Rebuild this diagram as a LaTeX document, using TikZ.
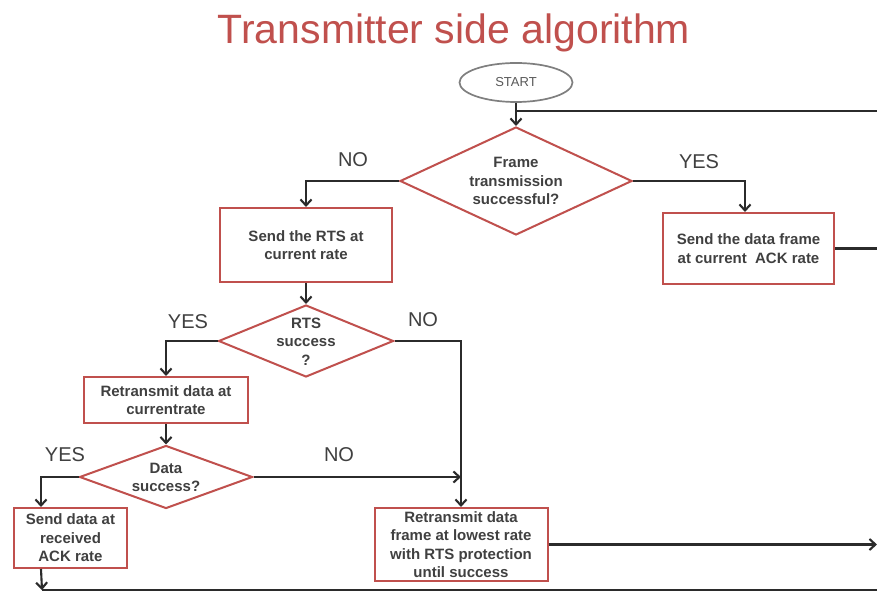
\documentclass[tikz,border=0pt]{standalone}
\usepackage{fontspec}
\setmainfont{Liberation Sans}
\usetikzlibrary{shapes.geometric,arrows.meta}
\definecolor{accent}{HTML}{C0504D}
\definecolor{ink}{HTML}{404040}
\definecolor{wirec}{HTML}{2B2B2B}
\definecolor{startc}{HTML}{7F7F7F}
\newcommand{\dtext}[1]{\makebox[0pt]{\smash{\raisebox{-5.4pt}{\begin{tabular}{@{}c@{}}#1\end{tabular}}}}}
\begin{document}
\begin{tikzpicture}[x=1pt,y=-1pt,
  box/.style={draw=accent,line width=2pt,fill=white,text=ink,font=\bfseries\fontsize{15}{18.5}\selectfont,align=center,inner sep=0pt},
  dec/.style={diamond,draw=accent,line width=2pt,text=ink,font=\bfseries\fontsize{15}{18.5}\selectfont,inner sep=0pt},
  wire/.style={draw=wirec,line width=2.1pt},
  arr/.style={wire,-{Straight Barb[length=6pt,width=11pt]}},
  lbl/.style={text=ink,font=\fontsize{20}{24}\selectfont,inner sep=0pt},
  ttl/.style={text=accent,font=\fontsize{41}{48}\selectfont,inner sep=0pt},
  startnode/.style={ellipse,draw=startc,line width=1.7pt,text=startc!70!black,font=\fontsize{13}{15}\selectfont,minimum width=113pt,minimum height=39pt,inner sep=0pt}
]
\useasboundingbox (0,0) rectangle (877,593);
\fill[white] (0,0) rectangle (877,593);

\node[ttl,anchor=base] (title) at (454,44) {Transmitter side algorithm};

\node[startnode] (start) at (516,82.5) {START};

\node[dec,minimum width=232pt,minimum height=108pt] (d1) at (516,181) {\dtext{Frame\\transmission\\successful?}};
\node[box,minimum width=172pt,minimum height=74pt] (rts) at (306,245) {Send the RTS at\\current rate};
\node[box,minimum width=171pt,minimum height=71pt] (frame) at (748.5,248.5) {Send the data frame\\at current~ ACK rate};
\node[dec,minimum width=175pt,minimum height=72pt] (d2) at (306,341) {\dtext{RTS\\success\\?}};
\node[box,minimum width=164pt,minimum height=46pt] (recur) at (166,400) {Retransmit data at\\currentrate};
\node[dec,minimum width=173pt,minimum height=63pt] (d3) at (166,477) {\dtext{Data\\success?}};
\node[box,minimum width=113pt,minimum height=60pt] (sendack) at (70.5,538) {Send data at\\received\\ACK rate};
\node[box,minimum width=173pt,minimum height=73pt] (low) at (461,544.5) {Retransmit data\\frame at lowest rate\\with RTS protection\\until success};

\node[lbl] (no1) at (353,160) {NO};
\node[lbl] (yes1) at (699,162) {YES};
\node[lbl] (yes2) at (188,322) {YES};
\node[lbl] (no2) at (423,320) {NO};
\node[lbl] (yes3) at (65,455) {YES};
\node[lbl] (no3) at (339,455) {NO};

\coordinate (eTop) at (877,111);
\coordinate (eFrame) at (877,249);
\coordinate (eLow) at (877,545);
\coordinate (eBot) at (877,590);
\coordinate (bl) at (42,590);

\draw[arr] (start.south) -- (d1.north);
\draw[wire] (eTop) -- (eTop -| d1.north);
\draw[arr] (d1.west) -| (rts.north);
\draw[arr] (d1.east) -| ([xshift=-3.5pt]frame.north);
\draw[wire] (frame.east) -- (frame.east -| eFrame);
\draw[arr] (rts.south) -- (d2.north);
\draw[arr] (d2.west) -| (recur.north);
\draw[arr] (d2.east) -| (low.north);
\draw[arr] (recur.south) -- (d3.north);
\draw[arr] (d3.west) -| ([xshift=28pt]sendack.north west);
\draw[arr] (d3.east) -- (d3.east -| low.north);
\draw[arr] (low.east) -- (low.east -| eLow);
\draw[arr] ([xshift=28pt]sendack.south west) -- (bl);
\draw[wire] (bl) -- (eBot);
\end{tikzpicture}
\end{document}
